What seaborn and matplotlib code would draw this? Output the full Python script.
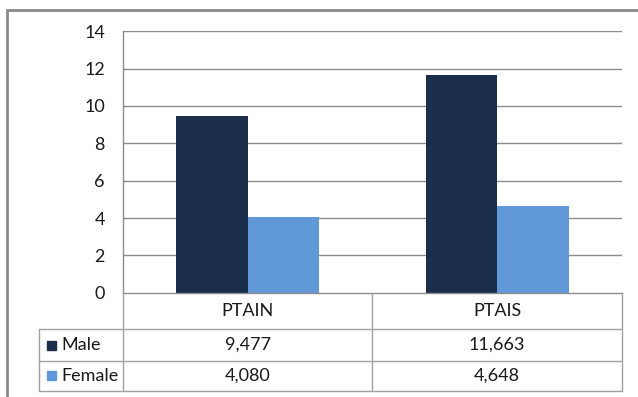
import matplotlib
matplotlib.use("Agg")
import matplotlib.pyplot as plt
from matplotlib.lines import Line2D
from matplotlib.patches import Rectangle
import pandas as pd
import seaborn as sns

# Chart data
categories = ["PTAIN", "PTAIS"]
series_names = ["Male", "Female"]
male_values = [9.477, 11.663]
female_values = [4.080, 4.648]
y_ticks = [0, 2, 4, 6, 8, 10, 12, 14]

colors = {"Male": "#1B2F4D", "Female": "#6198D8"}
grid_color = "#8C8C8C"
table_color = "#A0A0A0"
FS = 13

df = pd.DataFrame({
    "category": categories * 2,
    "series": ["Male"] * len(categories) + ["Female"] * len(categories),
    "value": male_values + female_values,
})

sns.set_theme(style="white")
plt.rcParams["font.family"] = ["Lato", "DejaVu Sans"]

W, H = 638, 397
fig = plt.figure(figsize=(W / 100, H / 100), dpi=100)

# plot area in pixel coordinates (top-left origin)
px_left, px_right = 123, 622
px_top, px_bottom = 31.3, 292.7
ax = fig.add_axes([px_left / W, 1 - px_bottom / H,
                   (px_right - px_left) / W, (px_bottom - px_top) / H])

sns.barplot(data=df, x="category", y="value", hue="series",
            hue_order=series_names, order=categories,
            palette=colors, width=0.573, gap=0, saturation=1,
            edgecolor="none", linewidth=0, legend=False, ax=ax)

ax.set_xlim(-0.5, len(categories) - 0.5)
ax.set_ylim(0, 14)
ax.set_yticks(y_ticks)
ax.set_yticklabels([str(t) for t in y_ticks], fontsize=FS, color="#1A1A1A")
ax.tick_params(axis="y", length=0, pad=13)
ax.set_xticks([])
ax.set_xlabel("")
ax.set_ylabel("")
for t in y_ticks[1:]:
    ax.axhline(t, color=grid_color, lw=1, zorder=0)
for side in ["top", "right"]:
    ax.spines[side].set_visible(False)
ax.spines["left"].set_color(grid_color)
ax.spines["bottom"].set_color(grid_color)
ax.spines["left"].set_linewidth(1)
ax.spines["bottom"].set_linewidth(1)


def fx(px):
    return px / W


def fy(py):
    return 1 - py / H


def hline(x0, x1, y, color=table_color):
    fig.add_artist(Line2D([fx(x0), fx(x1)], [fy(y), fy(y)],
                          color=color, lw=1, transform=fig.transFigure))


def vline(x, y0, y1, color=table_color):
    fig.add_artist(Line2D([fx(x), fx(x)], [fy(y0), fy(y1)],
                          color=color, lw=1, transform=fig.transFigure))


# data table under the plot
row_y = [292.7, 329.3, 360.7, 391.0]
table_left = 39.3
col_edges = [px_left, 372.3, px_right]

hline(table_left, px_right, row_y[1])
hline(table_left, px_right, row_y[2])
hline(table_left, px_right, row_y[3])
vline(table_left, row_y[1], row_y[3])
vline(px_left, px_bottom, row_y[3])
vline(col_edges[1], row_y[0], row_y[3])
vline(px_right, row_y[0], row_y[3])

text_color = "#1A1A1A"
for i, cat in enumerate(categories):
    cx = (col_edges[i] + col_edges[i + 1]) / 2
    fig.text(fx(cx), fy((row_y[0] + row_y[1]) / 2), cat, ha="center",
             va="center", fontsize=FS, color=text_color)

rows = [("Male", male_values), ("Female", female_values)]
for r, (name, vals) in enumerate(rows):
    cy = (row_y[r + 1] + row_y[r + 2]) / 2
    fig.add_artist(Rectangle((fx(47), fy(cy + 4.5)), 9 / W, 9 / H,
                             color=colors[name], transform=fig.transFigure))
    fig.text(fx(61), fy(cy), name, ha="left", va="center",
             fontsize=FS, color=text_color)
    for i, v in enumerate(vals):
        cx = (col_edges[i] + col_edges[i + 1]) / 2
        label = f"{v:.3f}".replace(".", ",")
        fig.text(fx(cx), fy(cy), label, ha="center", va="center",
                 fontsize=FS, color=text_color)

# outer chart border (partly outside the canvas)
fig.add_artist(Rectangle((fx(6.7), fy(H + 20)), (W + 20) / W, (H + 20 - 9.7) / H,
                         fill=False, edgecolor="#8A8A8A", lw=2,
                         transform=fig.transFigure))

fig.savefig("out.png", dpi=100)
